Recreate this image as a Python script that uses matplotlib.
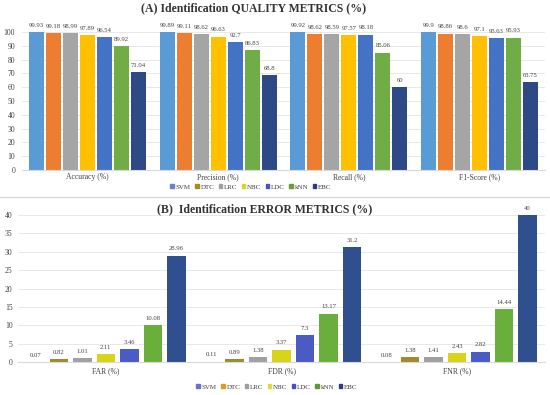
import numpy as np
import matplotlib.pyplot as plt
from matplotlib.patches import Patch
from matplotlib.lines import Line2D

plt.rcParams['font.family'] = ['Liberation Serif', 'DejaVu Serif']

models = ['SVM', 'DTC', 'LRC', 'NBC', 'LDC', 'kNN', 'EBC']

quality_metrics = ['Accuracy (%)', 'Precision (%)', 'Recall (%)', 'F1-Score (%)']
accuracy = [99.93, 99.18, 98.99, 97.89, 96.54, 89.92, 71.04]
precision = [99.89, 99.11, 98.62, 96.63, 92.7, 86.83, 68.8]
recall = [99.92, 98.62, 98.59, 97.57, 98.18, 85.06, 60]
f1_score = [99.9, 98.86, 98.6, 97.1, 95.63, 95.93, 63.75]

error_metrics = ['FAR (%)', 'FDR (%)', 'FNR (%)']
far = [0.07, 0.82, 1.01, 2.11, 3.46, 10.08, 28.96]
fdr = [0.11, 0.89, 1.38, 3.37, 7.3, 13.17, 31.2]
fnr = [0.08, 1.38, 1.41, 2.43, 2.82, 14.44, 40]

# colours as seen in the picture
top_colors = ['#5B9BD5', '#ED7D31', '#A5A5A5', '#FFC000', '#4472C4', '#70AD47', '#2E4A86']
bot_colors = ['#6A7FD0', '#A08A2A', '#A0A0A0', '#D8D41A', '#4A5CC4', '#6AAE3C', '#2F4F8E']
top_leg = ['#6A7FD0', '#A08A2A', '#A0A0A0', '#D8D81A', '#4B52C0', '#6E9A3A', '#2E3A80']
bot_leg = ['#6A6FD0', '#D6A020', '#A0A0A0', '#E0E020', '#4B52C0', '#5E9A3A', '#2E3A80']

W, H = 550, 395
fig = plt.figure(figsize=(W / 100, H / 100), dpi=100)


def px_axes(l, t, r, b):
    return fig.add_axes([l / W, 1 - b / H, (r - l) / W, (b - t) / H])


def style(ax):
    for s in ['top', 'right', 'left']:
        ax.spines[s].set_visible(False)
    ax.spines['bottom'].set_color('#D9D9D9')
    ax.grid(axis='y', color='#E4E4E4', lw=0.6)
    ax.set_axisbelow(True)
    ax.tick_params(length=0, labelsize=5.5, colors='#404040')


# (A) quality metrics
ax1 = px_axes(22, 32, 545, 170)
qvals = np.array([accuracy, precision, recall, f1_score])
x = np.arange(len(quality_metrics))
step, width = 0.130, 0.115
for i, m in enumerate(models):
    pos = x + (i - 3) * step
    bars = ax1.bar(pos, qvals[:, i], width, color=top_colors[i])
    for b, v in zip(bars, qvals[:, i]):
        ax1.annotate(f'{v:g}', (b.get_x() + b.get_width() / 2, v), xytext=(0, 3),
                     textcoords='offset points', ha='center', va='bottom',
                     fontsize=4.8, color='#404040', annotation_clip=False)
ax1.set_xlim(-0.5, 3.5)
ax1.set_ylim(0, 100)
ax1.set_yticks(range(0, 101, 10))
ax1.set_xticks(x)
ax1.set_xticklabels(quality_metrics)
style(ax1)
ax1.tick_params(axis='y', pad=5)
ax1.tick_params(axis='x', pad=2)

# (B) error metrics
ax2 = px_axes(18, 215, 545, 362)
evals = np.array([far, fdr, fnr])
x2 = np.arange(len(error_metrics))
step2, width2 = 0.1337, 0.105
for i, m in enumerate(models):
    pos = x2 + (i - 3) * step2
    bars = ax2.bar(pos, evals[:, i], width2, color=bot_colors[i])
    for b, v in zip(bars, evals[:, i]):
        ax2.annotate(f'{v:g}', (b.get_x() + b.get_width() / 2, v), xytext=(0, 3),
                     textcoords='offset points', ha='center', va='bottom',
                     fontsize=4.8, color='#404040', annotation_clip=False)
ax2.set_xlim(-0.5, 2.5)
ax2.set_ylim(0, 40)
ax2.set_yticks(range(0, 41, 5))
ax2.set_xticks(x2)
ax2.set_xticklabels(error_metrics)
style(ax2)
ax2.tick_params(axis='y', pad=4)
ax2.tick_params(axis='x', pad=4)

# titles
fig.text(254 / W, 1 - 8 / H, '(A) Identification QUALITY METRICS (%)', ha='center',
         va='center', fontsize=8.5, fontweight='bold', color='#333333')
fig.text(265 / W, 1 - 209 / H, '(B)  Identification ERROR METRICS (%)', ha='center',
         va='center', fontsize=8.5, fontweight='bold', color='#333333')

# separator line
fig.add_artist(Line2D([0, 1], [1 - 197 / H, 1 - 197 / H], transform=fig.transFigure,
                      color='#D9D9D9', lw=1))

# legends
for cols, cx, cy in [(top_leg, 251, 187), (bot_leg, 277, 387)]:
    handles = [Patch(color=c, label=m) for c, m in zip(cols, models)]
    fig.legend(handles=handles, loc='center', bbox_to_anchor=(cx / W, 1 - cy / H),
               ncol=7, frameon=False, fontsize=5, handlelength=0.55, handleheight=0.55,
               handletextpad=0.25, columnspacing=0.6, labelcolor='#404040',
               borderpad=0, borderaxespad=0)

fig.savefig('out.png', dpi=100)
